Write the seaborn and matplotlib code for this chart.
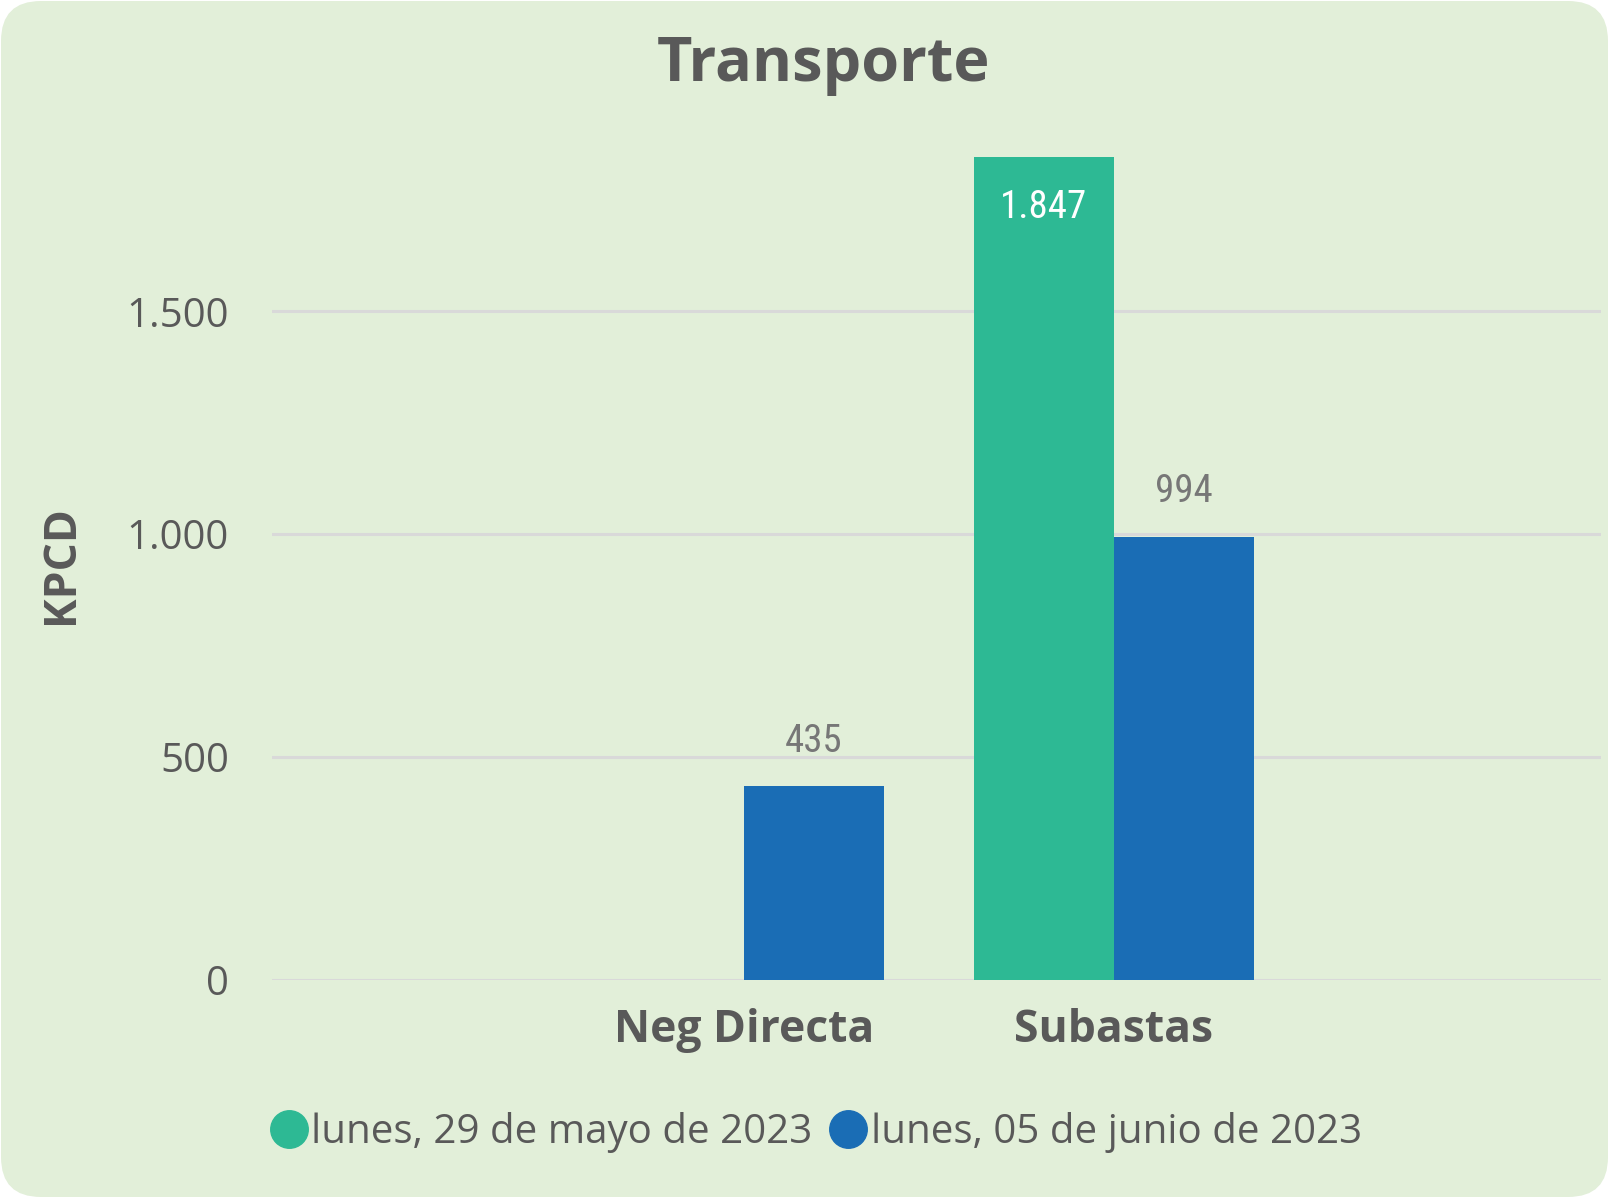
import numpy as np
import pandas as pd
import matplotlib
matplotlib.use("Agg")
import matplotlib.pyplot as plt
import seaborn as sns
from matplotlib.patches import FancyBboxPatch
from matplotlib.lines import Line2D
from matplotlib.ticker import FuncFormatter
from matplotlib.transforms import IdentityTransform

# Datos del gráfico
categorias = ["Neg Directa", "Subastas"]
fechas = ["lunes, 29 de mayo de 2023", "lunes, 05 de junio de 2023"]
valores_29_mayo = [np.nan, 1847]
valores_05_junio = [435, 994]
yticks = [0, 500, 1000, 1500]

VERDE = "#2DB994"
AZUL = "#1A6DB5"
FONDO = "#E2EFD9"
GRIS = "#595959"

df = pd.DataFrame({
    "Categoria": categorias * 2,
    "Fecha": [fechas[0]] * 2 + [fechas[1]] * 2,
    "KPCD": valores_29_mayo + valores_05_junio,
}).dropna()


def fmt_es(v, pos=None):
    return f"{v:,.0f}".replace(",", ".")


sns.set_theme(style="white")
plt.rcParams["font.family"] = ["Open Sans", "DejaVu Sans"]

fig = plt.figure(figsize=(16.09, 11.98), dpi=100, facecolor="white")
fondo = FancyBboxPatch((1, 1), 1607, 1196, boxstyle="round,pad=0,rounding_size=40",
                       transform=IdentityTransform(), facecolor=FONDO, edgecolor="none", zorder=-10)
fig.add_artist(fondo)

ax = fig.add_axes([0.169, 0.182, 0.826, 0.707])
ax.set_facecolor("none")

sns.barplot(data=df, x="Categoria", y="KPCD", hue="Fecha", order=categorias, hue_order=fechas,
            palette=[VERDE, AZUL], saturation=1, width=0.757, ax=ax, legend=False,
            linewidth=0, edgecolor="none", zorder=3)

ax.set_xlim(-1.276, 2.316)
ax.set_ylim(0, 1900)
ax.set_yticks(yticks)
ax.yaxis.set_major_formatter(FuncFormatter(fmt_es))
ax.grid(axis="y", color="#D9D9D9", linewidth=2.2, zorder=0)
ax.set_axisbelow(True)
for s in ax.spines.values():
    s.set_visible(False)
ax.tick_params(axis="y", length=0, pad=31, labelsize=29, labelcolor=GRIS)
ax.tick_params(axis="x", length=0, pad=20, labelsize=32, labelcolor=GRIS)
for t in ax.get_xticklabels():
    t.set_fontweight("bold")
ax.set_xlabel("")
ax.set_ylabel("")

# Etiquetas de datos
fam_num = ["Roboto Condensed", "Roboto", "DejaVu Sans"]
c_verde, c_azul = ax.containers[0], ax.containers[1]
ax.bar_label(c_verde, labels=[fmt_es(b.get_height()) for b in c_verde], padding=-50,
             color="white", fontsize=28, family=fam_num)
ax.bar_label(c_azul, labels=[fmt_es(b.get_height()) for b in c_azul], padding=19,
             color="#777777", fontsize=28, family=fam_num)

fig.text(0.5115, 1 - 65 / 1198, "Transporte", ha="center", va="center",
         fontsize=44, fontweight="bold", color=GRIS)
fig.text(0.0385, 1 - 565 / 1198, "KPCD", ha="center", va="center", rotation=90,
         fontsize=32, fontweight="bold", color=GRIS)

handles = [Line2D([0], [0], marker="o", linestyle="none", markersize=27,
                  markerfacecolor=c, markeredgecolor=c) for c in [VERDE, AZUL]]
fig.legend(handles, fechas, loc="center", bbox_to_anchor=(0.5066, 0.055), ncol=2,
           frameon=False, fontsize=29, labelcolor=GRIS, handletextpad=0.05,
           columnspacing=0.4, handlelength=1.0)

fig.savefig("out.png", dpi=100, facecolor=fig.get_facecolor())
